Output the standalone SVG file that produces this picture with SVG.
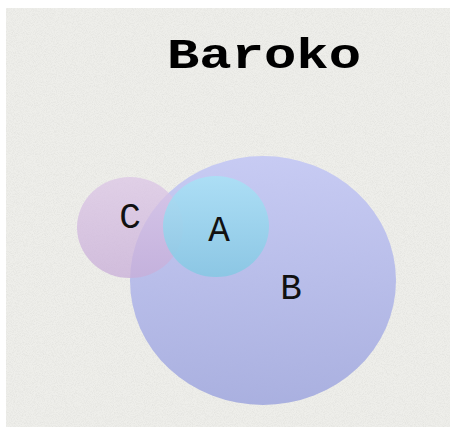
<svg xmlns="http://www.w3.org/2000/svg" width="456" height="430" viewBox="0 0 456 430">
  <defs>
    <filter id="paper" x="0" y="0" width="100%" height="100%">
      <feTurbulence type="fractalNoise" baseFrequency="1.1" numOctaves="2" seed="3" result="n"/>
      <feColorMatrix in="n" type="matrix" values="0 0 0 0 0.72  0 0 0 0 0.72  0 0 0 0 0.69  0 0 0 -2.2 1.35" result="speck"/>
      <feComposite in="speck" in2="SourceGraphic" operator="in"/>
    </filter>
    <linearGradient id="gB" x1="0" y1="0" x2="0" y2="1">
      <stop offset="0" stop-color="#c4c8f4"/>
      <stop offset="1" stop-color="#a4abdf"/>
    </linearGradient>
    <linearGradient id="gC" x1="0" y1="0" x2="0" y2="1">
      <stop offset="0" stop-color="#dcc6e6"/>
      <stop offset="1" stop-color="#c8add8"/>
    </linearGradient>
    <linearGradient id="gA" x1="0" y1="0" x2="0" y2="1">
      <stop offset="0" stop-color="#a8e2f6"/>
      <stop offset="1" stop-color="#84c8e3"/>
    </linearGradient>
    <style>
      .lbl { font-family: "Liberation Mono", "Courier New", monospace; font-size: 36px; fill: #111; text-anchor: middle; }
      .title { font-family: "Liberation Mono", "Courier New", monospace; font-size: 43px; font-weight: bold; fill: #000; text-anchor: middle; }
    </style>
  </defs>
  <rect x="0" y="0" width="456" height="430" fill="#ffffff"/>
  <rect x="6" y="8" width="444" height="419" fill="#eeeeea"/>
  <rect x="6" y="8" width="444" height="419" fill="#eeeeea" filter="url(#paper)" opacity="0.55"/>
  <text class="title" x="264" y="68" textLength="194" lengthAdjust="spacingAndGlyphs">Baroko</text>
  <g id="B">
    <ellipse cx="263" cy="280.5" rx="133" ry="124.5" fill="url(#gB)" opacity="0.92"/>
    <text class="lbl" x="291" y="299">B</text>
  </g>
  <g id="C">
    <ellipse cx="130" cy="227.5" rx="53" ry="50.5" fill="url(#gC)" opacity="0.75"/>
    <text class="lbl" x="130" y="228">C</text>
  </g>
  <g id="A">
    <ellipse cx="216" cy="226.5" rx="53" ry="50.5" fill="url(#gA)" opacity="0.85"/>
    <text class="lbl" x="219" y="241">A</text>
  </g>
  <g id="connectors"/>
</svg>
